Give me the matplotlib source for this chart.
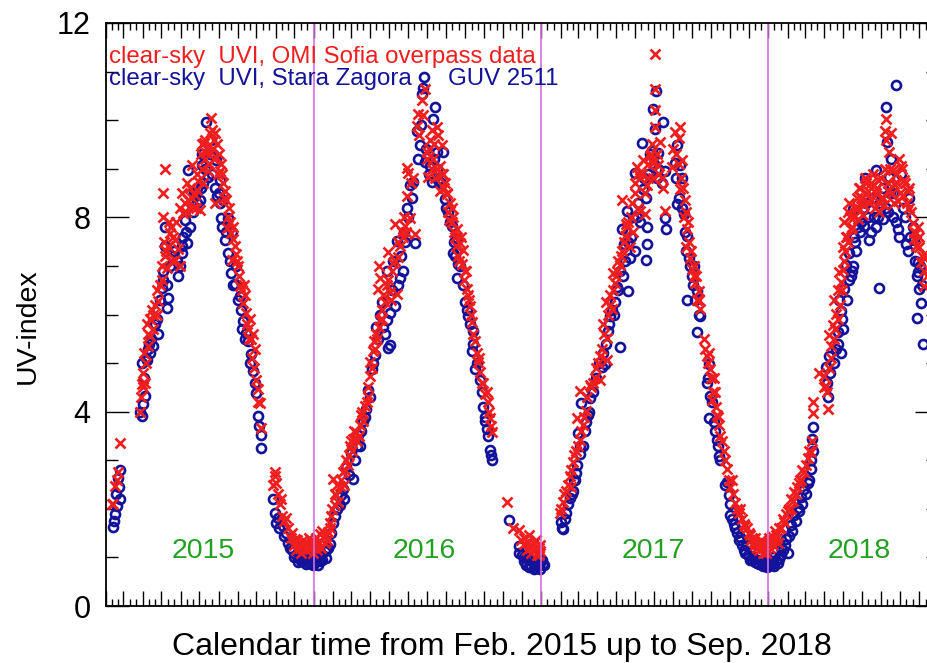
import numpy as np
import matplotlib
matplotlib.use('Agg')
import matplotlib.pyplot as plt
import matplotlib.dates as mdates
from matplotlib.ticker import MultipleLocator
from datetime import datetime

plt.rcParams['font.family'] = ['Liberation Sans', 'DejaVu Sans']

# clear-sky UVI: day of year (0 = 1 Jan) and UV index
omi_2015_doy = [42.8, 40.1, 45.5, 48.2, 50.8, 53.5, 85.6, 88.3, 93.6, 91.0, 91.5, 99.0, 96.3, 107.0, 104.3,
                115.0, 120.4, 125.7, 123.1, 122.5, 126.0, 133.8, 141.8, 142.5, 149.8, 155.2, 163.2, 168.5,
                176.6, 181.9, 187.3, 188.0, 200.6, 198.0, 192.6, 206.0, 203.3, 211.3, 216.7, 219.4, 206.5,
                224.7, 225.5, 232.7, 238.1, 233.5, 243.4, 246.1, 251.5, 256.8, 259.5, 264.8, 270.2, 272.9,
                275.5, 278.2, 280.9, 302.3, 305.0, 313.0, 314.0, 321.0, 334.4, 342.4, 350.4, 358.5, 363.8,
                157.8, 165.9, 171.2, 173.9, 179.2, 184.6, 189.9, 195.3, 204.0, 208.7, 214.0, 222.0, 227.4,
                235.4, 240.8, 147.1, 136.4, 128.4, 112.4, 101.7, 254.1, 262.2, 267.5, 361.2, 346.0, 355.0,
                338.0, 330.0]
omi_2015_uvi = [2.1, 2.1, 2.47, 2.6, 2.75, 3.36, 4.0, 4.56, 4.6, 4.8, 5.2, 5.35, 5.8, 5.7, 6.1,
                6.27, 6.72, 7.2, 8.0, 8.5, 9.0, 7.68, 7.54, 7.13, 7.0, 8.08, 8.36, 9.08,
                8.57, 8.16, 8.7, 9.53, 10.04, 9.73, 9.32, 9.73, 9.4, 8.9, 9.1, 8.7, 8.29,
                8.36, 7.78, 7.68, 7.4, 7.13, 6.99, 6.58, 6.24, 6.03, 5.7, 5.49, 5.3, 4.66,
                4.46, 4.18, 3.67, 2.68, 2.54, 2.2, 1.85, 1.82, 1.38, 1.2, 1.27, 1.17, 1.3,
                8.3, 8.6, 8.2, 8.45, 8.75, 9.0, 9.2, 8.95, 9.6, 9.25, 8.95, 8.55, 8.0,
                7.55, 7.25, 7.35, 7.1, 6.95, 6.0, 5.55, 6.4, 5.9, 5.6, 1.35, 1.25, 1.3,
                1.35, 1.5]
# denser parts of the 2015 band
omi_2015_doy_b = [87, 90, 95, 98, 102, 106, 110, 113, 118, 121, 124, 127, 130, 132, 135, 139, 144, 150,
                  153, 160, 162, 170, 175, 178, 183, 186, 190, 194, 197, 201, 205, 210, 213, 218, 221, 229,
                  231, 236, 242, 245, 249, 253, 258, 261, 266, 269, 276, 300, 303, 308, 311, 318, 324, 328,
                  333, 336, 340, 344, 348, 352, 357, 360, 364]
omi_2015_uvi_b = [4.3, 4.5, 5.0, 5.6, 5.9, 6.0, 6.2, 6.5, 6.6, 7.0, 7.5, 7.3, 7.4, 7.9, 7.8, 7.6, 7.9, 8.2,
                  8.5, 8.1, 8.7, 8.4, 8.2, 8.9, 9.3, 9.5, 9.6, 9.4, 9.1, 9.8, 9.2, 9.5, 9.3, 8.9, 8.4, 8.2,
                  7.9, 7.8, 7.1, 6.8, 6.5, 6.6, 5.8, 5.5, 5.1, 4.9, 4.2, 2.5, 2.75, 2.3, 2.1, 1.75, 1.6, 1.4,
                  1.25, 1.15, 1.3, 1.1, 1.35, 1.15, 1.4, 1.25, 1.1]

guv_2015_doy = [42.8, 45.5, 48.2, 53.5, 54.0, 50.8, 88.3, 91.0, 93.6, 89.0, 96.3, 101.7, 107.0, 112.4,
                128.4, 120.4, 131.1, 123.1, 125.7, 126.5, 136.4, 147.1, 152.5, 160.5, 157.8, 165.9, 163.2,
                181.9, 173.9, 184.6, 192.6, 200.6, 195.3, 208.7, 214.0, 209.5, 219.4, 216.7, 227.4, 222.0,
                228.0, 232.7, 238.1, 246.1, 251.5, 256.8, 264.8, 267.5, 272.9, 275.5, 279.7, 280.9, 299.6,
                302.3, 307.6, 321.0, 326.4, 345.1, 353.1, 363.8, 358.5, 171.2, 176.6, 187.3, 203.3, 233.2,
                240.8, 248.8, 259.5, 144.5, 155.2, 115.0, 99.0, 337.1, 315.7, 363.9, 348.0, 341.0, 356.0,
                360.0]
guv_2015_uvi = [1.62, 1.89, 2.06, 2.2, 2.8, 2.64, 3.91, 4.15, 4.32, 5.0, 5.07, 5.2, 5.35, 5.9,
                6.14, 6.55, 6.34, 6.9, 7.4, 7.8, 7.2, 6.8, 7.27, 7.47, 7.95, 7.8, 8.98,
                8.36, 8.43, 9.08, 9.97, 9.6, 8.84, 9.18, 8.77, 8.43, 8.36, 7.99, 7.99, 7.54,
                7.27, 6.86, 6.62, 6.38, 5.86, 5.62, 5.18, 4.84, 4.39, 3.91, 3.53, 3.26, 2.2,
                1.92, 1.82, 1.51, 1.2, 0.93, 0.86, 0.86, 1.03, 8.1, 8.6, 8.7, 9.3, 7.7,
                7.0, 6.1, 5.45, 7.1, 7.6, 5.6, 5.3, 1.05, 1.65, 0.85, 0.95, 1.0, 0.9,
                0.95]
guv_2015_doy_b = [44, 47, 52, 86, 92, 95, 100, 104, 109, 118, 122, 129, 134, 140, 150, 154, 159, 168, 172,
                  178, 183, 186, 190, 198, 202, 206, 212, 215, 218, 224, 230, 235, 243, 249, 254, 262, 270,
                  277, 304, 310, 318, 323, 330, 334, 340, 344, 350, 352, 357, 362]
guv_2015_uvi_b = [1.75, 2.3, 2.45, 4.0, 4.7, 5.1, 5.4, 5.5, 5.8, 6.3, 6.7, 6.6, 7.0, 7.3, 7.0, 7.4, 7.7, 8.3,
                  8.5, 8.3, 8.6, 9.3, 9.0, 9.3, 8.9, 8.6, 8.5, 8.3, 7.8, 7.7, 7.1, 6.6, 6.3, 5.7, 5.5, 5.0,
                  4.6, 3.7, 1.7, 1.6, 1.45, 1.3, 1.15, 1.0, 0.9, 1.05, 0.95, 1.1, 0.88, 1.0]

omi_2016_doy = [4.3, 15.0, 23.1, 9.7, 28.5, 33.9, 36.5, 41.9, 31.2, 47.3, 52.7, 58.0, 63.4, 68.8, 74.2,
                76.8, 82.2, 87.6, 90.3, 91.0, 95.7, 96.5, 101.0, 106.4, 109.1, 114.5, 103.7, 107.0, 104.5,
                122.5, 133.3, 119.8, 136.0, 138.6, 130.6, 146.7, 154.8, 149.4, 152.1, 150.0, 162.8, 165.5,
                168.2, 173.6, 179.0, 181.6, 184.3, 197.8, 200.4, 192.4, 205.8, 203.1, 195.1, 202.5, 213.9,
                219.3, 224.6, 230.0, 235.4, 240.8, 238.1, 246.1, 251.5, 254.2, 259.6, 264.9, 267.6, 273.0,
                275.7, 281.1, 283.7, 286.4, 310.6, 329.4, 345.5, 337.5, 348.2, 359.0, 364.3,
                187.0, 189.7, 208.5, 211.2, 216.6, 221.9, 227.3, 232.7, 243.4, 248.8, 73.0, 62.0, 55.4,
                39.2, 25.8, 17.7, 117.2, 125.2, 127.9, 141.3, 353.6, 342.9, 361.7, 1.0, 6.0, 12.0, 20.0]
omi_2016_uvi = [1.24, 1.42, 1.53, 1.49, 1.85, 2.07, 2.29, 2.47, 2.61, 2.75, 3.0, 3.29, 3.44, 3.58, 3.73,
                3.94, 4.12, 4.3, 4.73, 5.02, 5.24, 5.45, 5.6, 5.89, 6.1, 6.25, 6.53, 6.75, 7.0,
                6.46, 6.43, 7.29, 7.18, 7.4, 7.87, 7.83, 7.98, 8.44, 8.91, 9.02, 7.65, 9.88,
                10.13, 10.42, 10.64, 9.34, 8.84, 9.85, 9.7, 9.2, 9.49, 9.05, 8.8, 8.55, 8.48,
                8.3, 8.01, 7.76, 7.47, 7.33, 7.04, 6.53, 6.17, 5.85, 5.45, 5.02, 4.81, 4.59,
                4.37, 4.19, 3.87, 3.58, 2.14, 1.57, 1.46, 1.28, 1.2, 1.06, 1.13,
                9.6, 9.0, 8.9, 8.7, 8.1, 7.9, 7.6, 7.2, 6.9, 6.4, 3.5, 3.2, 2.9,
                2.15, 1.7, 1.3, 6.6, 6.9, 7.05, 7.7, 1.3, 1.15, 1.2, 1.3, 1.15, 1.2, 1.45]
omi_2016_doy_b = [3, 8, 14, 22, 27, 30, 35, 38, 44, 49, 51, 57, 60, 65, 70, 78, 80, 85, 88, 93, 99, 102,
                  105, 110, 112, 120, 124, 131, 135, 143, 145, 148, 156, 160, 170, 176, 183, 186, 190, 194,
                  198, 206, 210, 215, 218, 223, 226, 229, 234, 237, 242, 245, 250, 253, 257, 262, 266, 270,
                  278, 282, 285, 320, 333, 339, 344, 350, 356, 358, 362, 364]
omi_2016_uvi_b = [1.4, 1.3, 1.55, 1.35, 1.6, 2.0, 2.3, 2.5, 2.6, 2.5, 2.8, 3.1, 3.4, 3.6, 3.4, 4.0, 3.8, 4.2,
                  4.5, 4.9, 5.3, 5.5, 5.75, 5.9, 6.4, 6.7, 6.3, 7.1, 7.5, 7.6, 8.0, 7.7, 8.7, 8.8, 9.7, 10.1,
                  9.2, 9.4, 9.8, 9.5, 9.0, 8.9, 8.6, 8.5, 7.95, 8.2, 7.7, 7.4, 7.1, 7.6, 6.7, 6.9, 6.3, 6.0,
                  5.6, 5.2, 5.1, 4.6, 4.4, 4.0, 3.7, 1.6, 1.35, 1.4, 1.3, 1.1, 1.2, 1.35, 1.05, 1.25]

guv_2016_doy = [9.7, 20.4, 17.7, 25.8, 31.2, 41.9, 44.6, 63.4, 52.7, 60.7, 71.5, 79.5, 84.9, 87.6, 93.0,
                98.3, 119.8, 122.5, 101.0, 111.8, 117.2, 109.1, 123.0, 130.6, 117.8, 127.9, 138.6, 144.0,
                133.3, 144.5, 149.4, 154.8, 160.1, 162.8, 165.5, 170.9, 173.6, 176.3, 177.0, 179.0, 187.0,
                195.1, 192.4, 197.8, 208.5, 200.4, 189.7, 211.2, 216.6, 221.9, 230.0, 224.6, 232.7, 231.0,
                243.4, 248.8, 256.9, 254.2, 259.6, 267.6, 273.0, 275.7, 278.4, 283.7, 286.4, 313.3, 329.4,
                337.5, 348.2, 364.3, 353.6, 342.9, 359.0, 345.5, 334.8, 47.3, 74.2, 12.4, 4.3, 1.5, 7.0]
guv_2016_uvi = [0.92, 0.99, 1.13, 1.28, 1.71, 2.07, 2.29, 2.61, 2.86, 3.15, 3.51, 3.8, 4.05, 4.45, 4.88,
                5.17, 5.31, 5.38, 5.74, 5.74, 5.89, 6.25, 6.03, 6.17, 6.9, 7.11, 6.75, 6.9,
                7.51, 7.69, 8.19, 8.66, 8.73, 7.47, 9.77, 9.49, 10.53, 10.67, 10.89, 9.13, 9.05,
                10.28, 10.03, 9.34, 9.34, 8.77, 8.73, 8.37, 8.12, 7.83, 7.58, 7.26, 7.04, 6.75,
                6.25, 5.96, 5.67, 5.24, 4.88, 4.66, 4.09, 3.8, 3.65, 3.22, 3.01, 1.78, 1.24,
                0.92, 0.85, 0.77, 0.77, 0.99, 0.85, 0.8, 1.05, 2.4, 3.3, 1.05, 0.95, 0.9, 0.85]
guv_2016_doy_b = [2, 6, 14, 19, 23, 28, 34, 38, 48, 56, 66, 69, 76, 82, 90, 96, 104, 107, 114, 126, 135,
                  140, 147, 151, 158, 167, 172, 181, 185, 193, 199, 205, 213, 219, 226, 228, 236, 240, 246,
                  251, 257, 262, 270, 276, 281, 285, 330, 338, 341, 346, 350, 355, 357, 362, 364]
guv_2016_uvi_b = [1.0, 1.1, 0.95, 1.15, 1.2, 1.5, 1.85, 2.0, 2.2, 2.7, 3.0, 3.3, 3.6, 3.9, 4.3, 5.0, 5.5,
                  6.0, 5.6, 6.5, 6.6, 7.2, 7.5, 8.0, 8.4, 9.2, 9.9, 9.4, 8.9, 9.2, 9.0, 8.7, 8.2, 7.9, 7.5,
                  7.2, 7.0, 6.6, 6.1, 5.8, 5.4, 5.0, 4.4, 3.9, 3.5, 3.1, 1.1, 1.0, 0.85, 0.95, 0.82, 0.9,
                  0.78, 0.85, 0.9]

omi_2017_doy = [29.6, 35.0, 40.4, 48.4, 45.8, 51.1, 56.5, 61.9, 67.3, 57.0, 62.5, 78.1, 72.7, 94.2, 95.0,
                105.0, 105.5, 99.6, 113.0, 104.0, 118.4, 115.7, 126.5, 129.2, 134.6, 142.6, 148.0, 135.5,
                130.0, 158.8, 166.9, 153.4, 159.5, 169.6, 164.2, 174.9, 180.3, 183.0, 182.5, 183.5, 183.0,
                191.1, 188.4, 193.8, 199.2, 215.3, 223.4, 220.7, 209.9, 226.1, 222.5, 231.5, 234.2, 232.0,
                239.5, 242.2, 247.6, 253.0, 255.7, 266.5, 271.8, 277.2, 274.5, 282.6, 285.3, 293.4, 298.8,
                304.1, 312.2, 317.6, 325.7, 336.4, 341.8, 352.6, 360.7, 347.2,
                150.7, 156.1, 172.3, 177.6, 140.0, 121.1, 110.4, 88.8, 83.4, 228.8, 236.9, 244.9, 261.1,
                269.2, 279.9, 288.0, 306.8, 320.3, 331.1, 339.1, 355.3, 250.3, 358.6, 363.9, 344.0, 350.0,
                357.0, 362.0]
omi_2017_uvi = [1.92, 2.14, 2.37, 2.44, 2.67, 2.97, 3.19, 3.42, 3.72, 3.87, 4.43, 4.54, 4.02, 4.65, 5.14,
                5.07, 5.51, 5.81, 6.11, 6.26, 6.64, 6.86, 7.01, 7.31, 7.61, 7.39, 7.69, 7.87,
                8.36, 8.14, 8.06, 9.03, 8.81, 8.66, 9.18, 9.26, 9.11, 9.86, 10.2, 10.64, 11.36,
                9.56, 9.07, 8.81, 8.14, 9.75, 9.86, 9.63, 9.03, 9.18, 8.58, 8.36, 7.76, 7.39,
                7.16, 6.94, 6.64, 6.49, 6.11, 5.14, 4.88, 4.69, 4.24, 3.94, 3.72, 3.19, 2.82,
                2.44, 2.11, 1.92, 1.69, 1.47, 1.32, 1.28, 1.17, 1.2,
                8.5, 8.2, 8.8, 9.5, 7.9, 6.9, 6.4, 4.9, 4.6, 8.0, 7.5, 6.8, 5.5,
                5.2, 4.4, 3.5, 2.6, 2.0, 1.6, 1.4, 1.3, 6.3, 1.22, 1.3, 1.25, 1.15,
                1.1, 1.2]
omi_2017_doy_b = [31, 37, 43, 47, 53, 59, 64, 69, 74, 80, 86, 91, 97, 101, 107, 111, 116, 120, 124, 128,
                  133, 138, 144, 146, 151, 155, 162, 167, 171, 176, 179, 186, 190, 196, 212, 217, 221, 225,
                  228, 233, 236, 241, 246, 249, 254, 264, 268, 273, 276, 281, 284, 290, 296, 302, 309, 315,
                  322, 328, 334, 338, 343, 346, 349, 353, 356, 359, 361, 364]
omi_2017_uvi_b = [2.0, 2.3, 2.5, 2.8, 3.1, 3.3, 3.6, 3.9, 4.3, 4.5, 4.7, 5.0, 5.3, 5.6, 6.0, 6.2, 6.5, 6.8,
                  7.1, 7.2, 7.5, 7.8, 8.0, 8.3, 8.7, 8.9, 8.9, 8.5, 9.1, 9.3, 8.8, 9.3, 8.9, 8.6, 9.4, 9.3,
                  9.1, 8.8, 8.6, 8.1, 7.9, 7.3, 7.0, 6.8, 6.3, 5.3, 5.0, 4.7, 4.4, 4.1, 3.9, 3.4, 3.0, 2.6,
                  2.3, 2.0, 1.8, 1.65, 1.5, 1.35, 1.4, 1.3, 1.25, 1.35, 1.2, 1.3, 1.1, 1.25]

guv_2017_doy = [2.7, 35.0, 32.3, 40.4, 45.8, 51.1, 56.5, 61.9, 59.2, 72.7, 64.6, 78.1, 75.4, 96.9, 102.3,
                126.5, 107.7, 110.4, 118.4, 121.1, 131.9, 140.0, 132.5, 142.6, 150.7, 129.2, 137.3, 158.8,
                169.6, 170.5, 168.5, 151.2, 164.2, 168.8, 161.5, 177.6, 183.0, 180.3, 183.8, 196.5, 188.4,
                185.7, 199.2, 198.5, 200.0, 218.0, 215.3, 223.4, 226.1, 219.0, 228.8, 234.2, 236.9, 242.2,
                250.3, 235.0, 255.7, 251.0, 269.2, 266.5, 271.8, 270.0, 277.2, 282.6, 285.3, 298.8, 301.5,
                304.1, 309.5, 320.3, 328.4, 339.1, 349.9, 363.4, 331.1, 314.9, 344.5, 355.3, 358.0, 52.0,
                67.3, 153.4, 244.9, 361.2]
guv_2017_uvi = [0.87, 1.58, 1.73, 1.92, 2.22, 2.37, 2.74, 3.12, 3.57, 3.79, 4.17, 4.28, 3.94, 4.92, 4.99,
                5.33, 5.66, 5.96, 6.26, 6.56, 6.79, 6.49, 7.46, 7.16, 7.31, 7.76, 8.14, 7.91,
                7.8, 7.46, 7.12, 8.92, 8.58, 8.4, 9.52, 9.37, 9.82, 10.23, 10.6, 9.97, 9.33,
                8.81, 8.96, 7.98, 7.76, 9.48, 9.11, 9.07, 8.81, 8.28, 8.06, 7.61, 7.16, 6.79,
                6.49, 6.3, 5.96, 5.63, 4.99, 4.58, 4.32, 3.87, 3.79, 3.42, 3.08, 2.56, 2.29,
                1.88, 1.69, 1.43, 1.1, 0.95, 0.87, 0.8, 1.25, 1.5, 0.9, 0.95, 0.85, 2.6,
                3.3, 8.0, 7.0, 0.93]
guv_2017_doy_b = [0.5, 4, 33, 38, 43, 49, 54, 58, 63, 70, 77, 83, 88, 93, 99, 104, 109, 114, 117, 123,
                  127, 135, 139, 145, 148, 156, 166, 172, 175, 182, 187, 194, 216, 222, 226, 231, 233, 239,
                  244, 248, 253, 268, 274, 279, 284, 288, 296, 303, 307, 312, 318, 322, 326, 333, 336, 341,
                  347, 352, 356, 360, 364]
guv_2017_uvi_b = [0.95, 0.85, 1.6, 1.8, 2.1, 2.3, 2.6, 2.9, 3.3, 3.6, 4.0, 4.4, 4.7, 5.0, 5.2, 5.4, 5.8,
                  6.1, 6.0, 6.5, 6.9, 7.1, 7.5, 7.6, 8.0, 8.3, 8.8, 8.9, 9.3, 9.1, 9.0, 8.7, 8.8, 8.4, 8.2,
                  7.7, 7.3, 7.0, 6.6, 6.3, 6.0, 4.7, 4.2, 3.6, 3.3, 3.0, 2.5, 2.1, 1.8, 1.6, 1.35, 1.25,
                  1.15, 1.05, 0.95, 1.0, 0.88, 0.95, 0.82, 0.9, 0.85]

omi_2018_doy = [4.3, 12.3, 15.1, 25.7, 31.1, 39.2, 44.6, 49.9, 57.9, 63.3, 68.7, 71.4, 71.9, 95.5, 92.9,
                90.2, 100.9, 98.3, 103.6, 109.0, 106.3, 117.0, 119.7, 114.4, 120.2, 125.0, 133.1, 127.7,
                143.9, 149.2, 154.6, 160.0, 168.0, 176.1, 181.4, 186.8, 189.5, 187.4, 197.6, 194.8, 200.2,
                202.9, 208.3, 213.7, 218.9, 224.3, 232.4, 237.8, 243.2, 245.8, 251.2,
                122.4, 130.4, 138.5, 146.5, 151.9, 157.2, 165.3, 173.3, 178.7, 192.2, 205.6, 210.9, 216.3,
                227.0, 235.0, 240.4, 52.6, 36.5, 20.4, 82.2, 111.6, 3.7, 7.6, 0.9]
omi_2018_uvi = [1.37, 1.47, 1.29, 1.73, 1.95, 2.16, 2.3, 2.53, 2.75, 3.04, 3.18, 3.98, 4.2, 4.06, 4.52,
                4.74, 5.36, 5.57, 5.79, 6.01, 6.3, 6.66, 6.91, 6.88, 7.38, 7.6, 7.75, 8.11,
                7.96, 8.4, 8.25, 8.54, 8.65, 8.76, 8.4, 8.25, 10.03, 9.78, 9.74, 9.34, 8.98,
                8.69, 8.33, 9.05, 8.76, 8.54, 7.89, 7.67, 7.38, 7.09, 6.59,
                7.9, 8.3, 8.0, 8.6, 8.05, 8.7, 8.35, 8.5, 8.1, 8.55, 8.9, 9.2, 8.45,
                8.2, 7.55, 7.8, 2.6, 2.0, 1.6, 4.8, 6.5, 1.32, 1.25, 1.4]
omi_2018_doy_b = [1, 3, 6, 9, 11, 14, 18, 23, 28, 34, 37, 42, 46, 51, 55, 60, 65, 70, 90, 94, 97, 101, 105,
                  108, 112, 116, 118, 122, 124, 126, 129, 132, 135, 139, 142, 145, 148, 151, 155, 158, 162,
                  165, 169, 171, 175, 179, 182, 185, 188, 190, 193, 196, 199, 203, 207, 212, 215, 220, 223,
                  226, 230, 234, 238, 242, 247, 250, 253, 256]
omi_2018_uvi_b = [1.3, 1.2, 1.45, 1.35, 1.55, 1.4, 1.6, 1.8, 1.9, 2.0, 2.2, 2.35, 2.45, 2.6, 2.8, 2.9, 3.2,
                  3.4, 4.5, 4.4, 4.9, 5.1, 5.5, 5.7, 5.9, 6.2, 6.5, 7.1, 7.3, 7.6, 7.5, 8.0, 7.8, 8.2, 8.4,
                  8.2, 8.6, 8.4, 8.8, 8.5, 8.3, 8.7, 8.9, 8.2, 8.6, 8.3, 8.8, 8.4, 9.0, 9.6, 8.7, 9.0, 8.5,
                  8.3, 8.7, 8.5, 9.0, 8.7, 8.3, 8.6, 8.1, 7.7, 7.4, 7.6, 7.2, 6.9, 7.2, 6.8]

guv_2018_doy = [7.0, 17.7, 9.7, 28.5, 36.5, 41.8, 47.2, 52.6, 63.3, 68.7, 71.4, 70.8, 95.5, 92.9, 98.3,
                109.0, 117.0, 111.6, 117.7, 114.4, 122.4, 133.1, 125.0, 130.4, 138.5, 135.8, 146.5, 154.6,
                162.6, 155.2, 173.3, 178.7, 184.1, 192.2, 189.5, 191.5, 197.6, 194.8, 205.6, 200.2, 208.3,
                213.7, 221.7, 227.0, 235.0, 240.4, 241.2, 243.2, 239.8, 245.8, 248.5,
                141.1, 149.2, 168.0, 176.1, 20.4, 57.9, 31.1, 1.6, 3.8]
guv_2018_uvi = [1.0, 0.96, 0.83, 1.37, 1.66, 1.88, 2.02, 2.24, 2.53, 2.82, 3.69, 3.44, 4.3, 4.92, 5.14,
                5.28, 5.21, 5.64, 6.08, 6.3, 6.52, 6.8, 7.02, 7.27, 7.6, 8.18, 8.04, 7.82,
                7.53, 8.8, 8.98, 6.55, 7.96, 8.11, 10.28, 9.56, 9.2, 8.83, 10.72, 8.51, 7.75,
                8.9, 7.46, 8.4, 7.53, 7.09, 6.88, 6.52, 5.93, 6.23, 5.39,
                7.3, 7.9, 8.4, 8.0, 1.2, 2.4, 1.1, 0.85, 0.9]
guv_2018_doy_b = [2, 5, 8, 12, 15, 20, 24, 27, 33, 39, 45, 50, 55, 60, 66, 69, 72, 94, 100, 106, 112, 118,
                  121, 126, 130, 134, 137, 140, 144, 148, 152, 157, 160, 166, 170, 174, 180, 185, 190, 196,
                  201, 206, 210, 216, 220, 224, 228, 232, 236, 240, 244, 248]
guv_2018_uvi_b = [0.95, 0.85, 0.9, 0.95, 0.88, 1.05, 1.15, 1.25, 1.45, 1.55, 1.75, 1.95, 2.1, 2.3, 2.6, 3.0,
                  3.2, 4.6, 4.8, 5.0, 5.4, 5.9, 5.7, 6.3, 6.7, 6.9, 7.0, 7.5, 7.8, 7.7, 8.2, 8.3, 8.0, 7.7,
                  8.0, 7.8, 8.3, 8.6, 8.2, 8.5, 8.0, 7.9, 7.6, 8.2, 8.0, 7.3, 7.6, 7.8, 7.1, 6.8, 7.0, 6.6]

years = [2015, 2016, 2017, 2018]
omi_doy = [omi_2015_doy + omi_2015_doy_b, omi_2016_doy + omi_2016_doy_b,
           omi_2017_doy + omi_2017_doy_b, omi_2018_doy + omi_2018_doy_b]
omi_uvi = [omi_2015_uvi + omi_2015_uvi_b, omi_2016_uvi + omi_2016_uvi_b,
           omi_2017_uvi + omi_2017_uvi_b, omi_2018_uvi + omi_2018_uvi_b]
guv_doy = [guv_2015_doy + guv_2015_doy_b, guv_2016_doy + guv_2016_doy_b,
           guv_2017_doy + guv_2017_doy_b, guv_2018_doy + guv_2018_doy_b]
guv_uvi = [guv_2015_uvi + guv_2015_uvi_b, guv_2016_uvi + guv_2016_uvi_b,
           guv_2017_uvi + guv_2017_uvi_b, guv_2018_uvi + guv_2018_uvi_b]

# year label positions (day of year)
label_doy = [186.7, 178.0, 180.0, 145.7]

red = '#f01e1e'
blue = '#12129a'


def to_num(year, doy):
    return mdates.date2num(datetime(year, 1, 1)) + np.asarray(doy)


fig = plt.figure(figsize=(9.28, 6.63), dpi=100)
ax = fig.add_axes([106 / 928, 57 / 663, 832 / 928, 583 / 663])

for yr, d, v in zip(years, guv_doy, guv_uvi):
    ax.plot(to_num(yr, d), v, 'o', ls='none', mfc='none', mec=blue, ms=6.5, mew=1.9)
for yr, d, v in zip(years, omi_doy, omi_uvi):
    ax.plot(to_num(yr, d), v, 'x', ls='none', color=red, ms=7, mew=1.9)

for yr in years[1:]:
    ax.axvline(mdates.date2num(datetime(yr, 1, 1)), color='#d36ee0', lw=1.2)

for yr, d in zip(years, label_doy):
    ax.text(to_num(yr, d), 0.99, str(yr), color='#22a022', fontsize=20.5, ha='center', va='baseline')

ax.text(0.004, 0.931, 'clear-sky  UVI, OMI Sofia overpass data', color=red, fontsize=17.3,
        transform=ax.transAxes, va='baseline')
ax.text(0.004, 0.894, 'clear-sky  UVI, Stara Zagora', color=blue, fontsize=17.3,
        transform=ax.transAxes, va='baseline')
ax.text(0.411, 0.894, 'GUV 2511', color=blue, fontsize=17.3,
        transform=ax.transAxes, va='baseline')

ax.set_xlim(mdates.date2num(datetime(2015, 2, 1)), mdates.date2num(datetime(2018, 10, 1)))
ax.set_ylim(0, 12)

ax.xaxis.set_major_locator(mdates.MonthLocator())
ax.xaxis.set_minor_locator(mdates.DayLocator(bymonthday=[11, 21]))
ax.xaxis.set_major_formatter(plt.NullFormatter())
ax.yaxis.set_major_locator(MultipleLocator(4))
ax.yaxis.set_minor_locator(MultipleLocator(1))

ax.tick_params(axis='x', which='major', direction='in', top=True, bottom=True, length=11, width=1)
ax.tick_params(axis='x', which='minor', direction='in', top=True, bottom=True, length=5, width=1)
ax.tick_params(axis='y', which='major', direction='in', left=True, right=True, length=16.5, width=1,
               labelsize=22, pad=11)
ax.tick_params(axis='y', which='minor', direction='in', left=True, right=True, length=8.5, width=1)
for s in ax.spines.values():
    s.set_linewidth(1.3)

fig.text(28 / 928, 1 - 326 / 663, 'UV-index', rotation=90, fontsize=20.5, ha='center', va='center')
fig.text(502 / 928, 8 / 663, 'Calendar time from Feb. 2015 up to Sep. 2018', fontsize=23,
         ha='center', va='baseline')

fig.savefig('out.png', dpi=100)
